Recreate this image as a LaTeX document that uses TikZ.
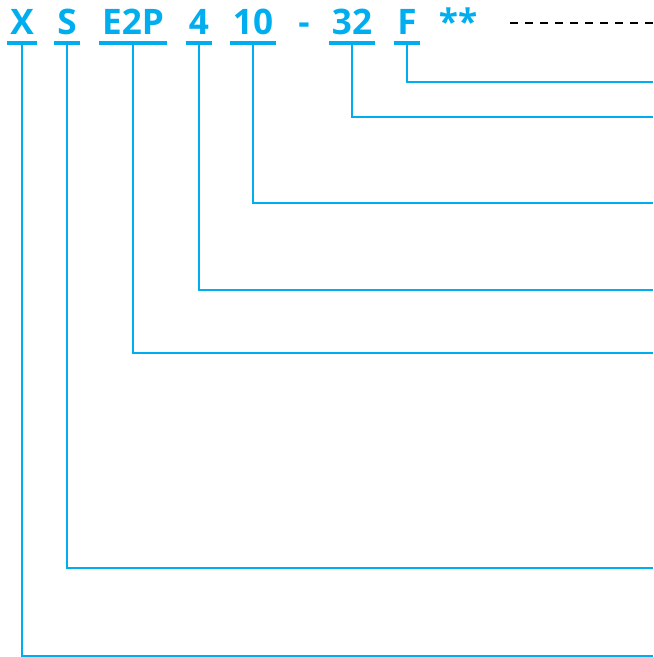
\documentclass[tikz,border=0pt]{standalone}
\usepackage{fontspec}
\setmainfont{Open Sans}
\definecolor{codeblue}{RGB}{0,174,239}
\begin{document}
\begin{tikzpicture}[
    x=0.025cm, y=-0.025cm,
    code/.style={anchor=base, text=codeblue, font=\bfseries\fontsize{25}{25}\selectfont,
      inner xsep=0.075cm, inner ysep=0.2cm, text depth=0pt},
    uline/.style={draw=codeblue, line width=2.8pt},
    lead/.style={draw=codeblue, line width=1.4pt},
    blank/.style={draw=black, line width=1.4pt, dash pattern=on 5.7pt off 5pt}
  ]
  \useasboundingbox (0,0) rectangle (653,657);
  \node[code] (x) at (22,35) {X};
  \node[code] (s) at (67,35) {S};
  \node[code] (e2p) at (133,35) {E2P};
  \node[code] (four) at (199,35) {4};
  \node[code] (ten) at (253,35) {10};
  \node[code] (dash) at (304,35) {-};
  \node[code] (tt) at (352,35) {32};
  \node[code] (f) at (407,35) {F};
  \node[code] (stars) at (458,35) {**};
  \coordinate (xe) at (653,656);
  \coordinate (se) at (653,568);
  \coordinate (e2pe) at (653,353);
  \coordinate (foure) at (653,290);
  \coordinate (tene) at (653,203);
  \coordinate (tte) at (653,117);
  \coordinate (fe) at (653,82);
  \coordinate (ds) at (510,23);
  \coordinate (de) at (653,23);
  \draw[uline] (x.south west) -- (x.south east);
  \draw[uline] (s.south west) -- (s.south east);
  \draw[uline] (e2p.south west) -- (e2p.south east);
  \draw[uline] (four.south west) -- (four.south east);
  \draw[uline] (ten.south west) -- (ten.south east);
  \draw[uline] (tt.south west) -- (tt.south east);
  \draw[uline] (f.south west) -- (f.south east);
  \draw[lead] (x.south) |- (xe);
  \draw[lead] (s.south) |- (se);
  \draw[lead] (e2p.south) |- (e2pe);
  \draw[lead] (four.south) |- (foure);
  \draw[lead] (ten.south) |- (tene);
  \draw[lead] (tt.south) |- (tte);
  \draw[lead] (f.south) |- (fe);
  \draw[blank] (ds) -- (de);
\end{tikzpicture}
\end{document}
